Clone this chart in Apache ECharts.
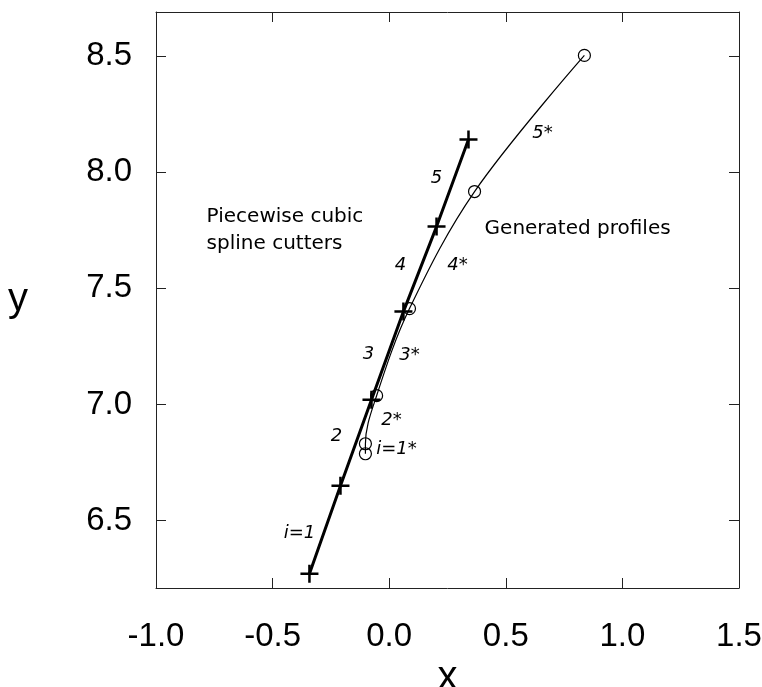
<!DOCTYPE html>
<html>
<head>
<meta charset="utf-8">
<script src="https://cdn.jsdelivr.net/npm/echarts@6/dist/echarts.min.js"></script>
<style>
  html, body { margin: 0; padding: 0; background: #fff; }
  #chart { width: 762px; height: 687px; }
</style>
</head>
<body>
<div id="chart"></div>
<script>
// cutter nodes (thick line, + markers)
const cutterX = [-0.342, -0.209, -0.076, 0.061, 0.203, 0.340]
const cutterY = [6.271, 6.650, 7.021, 7.400, 7.766, 8.141]

// generated profile nodes (thin line, circles)
const profileX = [-0.102, -0.102, -0.054, 0.087, 0.366, 0.837]
const profileY = [6.788, 6.831, 7.038, 7.413, 7.917, 8.503]

// segment labels
const segLabels = ['i=1', '2', '3', '4', '5', 'i=1*', '2*', '3*', '4*', '5*']
const segX = [-0.385, -0.226, -0.089, 0.048, 0.203, 0.031, 0.010, 0.087, 0.293, 0.657]
const segY = [6.447, 6.861, 7.215, 7.598, 7.973, 6.805, 6.934, 7.210, 7.600, 8.167]

// descriptive notes
const notes = ['Piecewise cubic\nspline cutters', 'Generated profiles']
const noteX = [-0.783, 0.409]
const noteY = [7.752, 7.758]

const yTicks = [6.5, 7.0, 7.5, 8.0, 8.5]

const font = 'Liberation Sans, Arial, Helvetica, sans-serif'
const noteFont = 'DejaVu Sans, sans-serif'
const plus = 'path://M-0.14,-1 H0.14 V-0.14 H1 V0.14 H0.14 V1 H-0.14 V0.14 H-1 V-0.14 H-0.14 Z'

const zip = (xs, ys) => xs.map((x, i) => [x, ys[i]])

const chart = echarts.init(document.getElementById('chart'))

const axisLine = { show: true, onZero: false, lineStyle: { color: '#222', width: 1 } }
const tick = { show: true, inside: true, length: 10, lineStyle: { color: '#222', width: 1 } }

chart.setOption({
  animation: false,
  grid: { left: 156, right: 23, top: 12, bottom: 99, outerBoundsMode: 'none' },
  xAxis: [
    {
      type: 'value', min: -1, max: 1.5, interval: 0.5,
      name: 'x', nameLocation: 'middle', nameGap: 44,
      nameTextStyle: { fontFamily: font, fontSize: 40, color: '#000' },
      axisLine, axisTick: tick, splitLine: { show: false },
      axisLabel: {
        margin: 32, fontFamily: font, fontSize: 33, color: '#000',
        formatter: v => v.toFixed(1)
      }
    },
    {
      type: 'value', position: 'top', min: -1, max: 1.5, interval: 0.5,
      axisLine, axisTick: tick, splitLine: { show: false }, axisLabel: { show: false }
    }
  ],
  yAxis: [
    {
      type: 'value', min: 6.21, max: 8.69,
      name: 'y', nameLocation: 'middle', nameGap: 128, nameRotate: 0,
      nameTextStyle: { fontFamily: font, fontSize: 40, color: '#000' },
      axisLine,
      axisTick: Object.assign({ customValues: yTicks }, tick),
      splitLine: { show: false },
      axisLabel: {
        margin: 24, fontFamily: font, fontSize: 33, color: '#000',
        customValues: yTicks, formatter: v => v.toFixed(1)
      }
    },
    {
      type: 'value', position: 'right', min: 6.21, max: 8.69,
      axisLine,
      axisTick: Object.assign({ customValues: yTicks }, tick),
      splitLine: { show: false }, axisLabel: { show: false }
    }
  ],
  series: [
    {
      name: 'cutters', type: 'line',
      data: zip(cutterX, cutterY),
      symbol: plus, symbolSize: 18,
      itemStyle: { color: '#000' },
      lineStyle: { color: '#000', width: 3 }
    },
    {
      name: 'profiles', type: 'line',
      data: zip(profileX, profileY),
      smooth: 0.35,
      symbol: 'circle', symbolSize: 12,
      itemStyle: { color: 'transparent', borderColor: '#000', borderWidth: 1.2 },
      lineStyle: { color: '#000', width: 1.2 }
    },
    {
      name: 'segments', type: 'scatter',
      data: segX.map((x, i) => ({ value: [x, segY[i]], name: segLabels[i] })),
      symbolSize: 0, silent: true,
      itemStyle: { opacity: 1 },
      label: {
        show: true, position: 'inside', formatter: p => p.name,
        fontFamily: noteFont, fontSize: 18, fontStyle: 'italic', color: '#000'
      }
    },
    {
      name: 'notes', type: 'scatter',
      data: noteX.map((x, i) => ({ value: [x, noteY[i]], name: notes[i] })),
      symbolSize: 0, silent: true,
      itemStyle: { opacity: 1 },
      label: {
        show: true, position: 'right', distance: 0, align: 'left',
        formatter: p => p.name, lineHeight: 27,
        fontFamily: noteFont, fontSize: 20, color: '#000'
      }
    }
  ]
})
</script>
</body>
</html>
